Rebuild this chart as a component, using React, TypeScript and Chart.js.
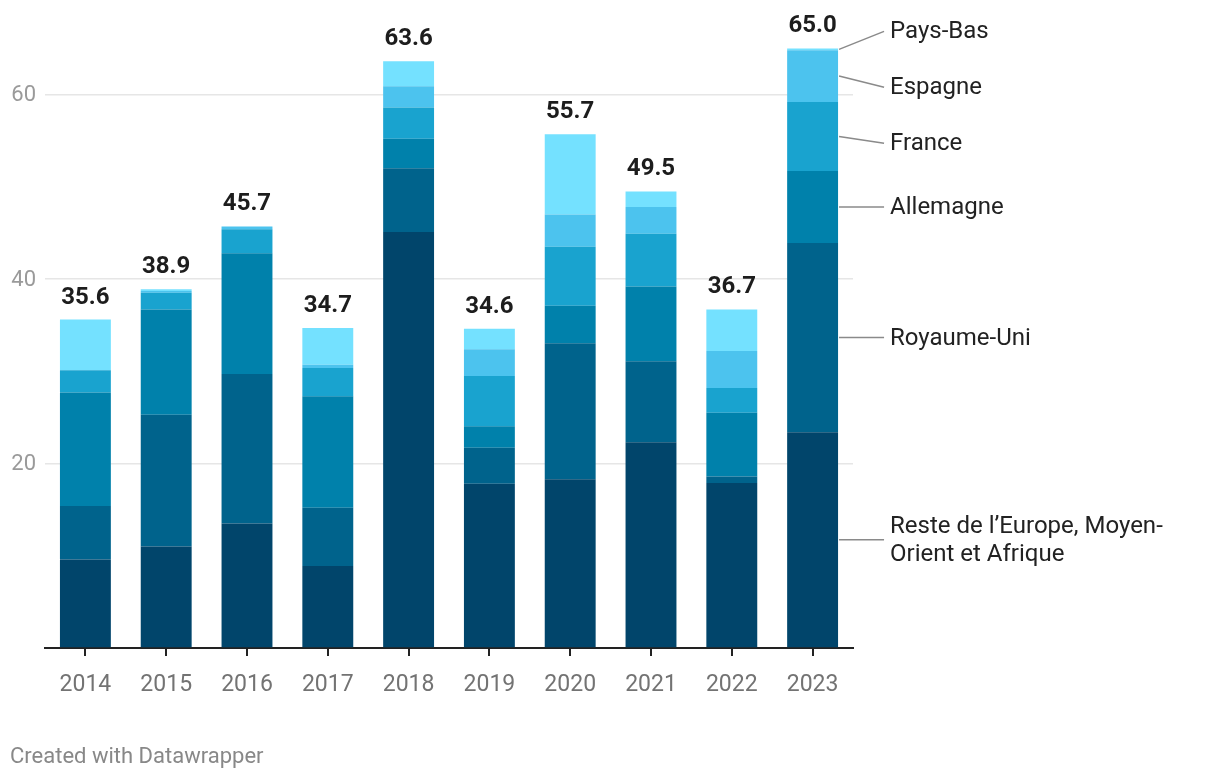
import React, { useEffect, useRef } from "react";
import { Chart, registerables } from "chart.js";

Chart.register(...registerables);

const years = ["2014", "2015", "2016", "2017", "2018", "2019", "2020", "2021", "2022", "2023"];
const reste = [9.6, 11.0, 13.5, 8.9, 45.1, 17.8, 18.3, 22.3, 17.9, 23.4];
const royaumeUni = [5.8, 14.3, 16.2, 6.3, 6.9, 3.9, 14.75, 8.8, 0.7, 20.5];
const allemagne = [12.3, 11.4, 13.1, 12.1, 3.2, 2.35, 4.05, 8.1, 6.9, 7.8];
const france = [2.4, 1.8, 2.6, 3.05, 3.4, 5.45, 6.4, 5.7, 2.7, 7.5];
const espagne = [0, 0.2, 0.3, 0.35, 2.3, 2.9, 3.5, 2.9, 4.0, 5.6];
const paysBas = [5.5, 0.2, 0, 4.0, 2.7, 2.2, 8.7, 1.7, 4.5, 0.2];
const totals = [35.6, 38.9, 45.7, 34.7, 63.6, 34.6, 55.7, 49.5, 36.7, 65.0];
const yTicks = [0, 20, 40, 60];

const seriesNames = [
  "Reste de l’Europe, Moyen-Orient et Afrique",
  "Royaume-Uni",
  "Allemagne",
  "France",
  "Espagne",
  "Pays-Bas",
];
const seriesValues = [reste, royaumeUni, allemagne, france, espagne, paysBas];
const seriesColors = ["#01456b", "#00638c", "#0081ab", "#19a3cf", "#4cc3ee", "#74e1ff"];

const FONT = "Roboto, 'Noto Sans', sans-serif";

function wrapText(ctx: CanvasRenderingContext2D, text: string, maxW: number): string[] {
  const tokens = text.match(/[^\s-]+-?|\s+/g) || [text];
  const lines: string[] = [];
  let cur = "";
  for (const t of tokens) {
    const test = cur + t;
    if (cur.trim() && ctx.measureText(test.trimEnd()).width > maxW) {
      lines.push(cur.trimEnd());
      cur = t.trimStart();
    } else {
      cur = test;
    }
  }
  if (cur.trim()) lines.push(cur.trimEnd());
  return lines;
}

const annotations = {
  id: "annotations",
  afterDraw(chart: any) {
    const ctx: CanvasRenderingContext2D = chart.ctx;
    const yScale = chart.scales.y;
    const xScale = chart.scales.x;
    ctx.save();

    // y tick labels
    ctx.font = `22px ${FONT}`;
    ctx.fillStyle = "#9a9a9a";
    ctx.textAlign = "right";
    ctx.textBaseline = "middle";
    yTicks.forEach((v) => {
      if (v === 0) return;
      ctx.fillText(String(v), chart.chartArea.left - 9, yScale.getPixelForValue(v) + 1);
    });

    // totals
    ctx.font = `bold 24px ${FONT}`;
    ctx.fillStyle = "#1d1d1d";
    ctx.textAlign = "center";
    ctx.textBaseline = "middle";
    totals.forEach((t, i) => {
      const x = xScale.getPixelForValue(i);
      const y = yScale.getPixelForValue(t);
      ctx.fillText(t.toFixed(1), x, y - 22);
    });

    // right labels for last bar
    const last = years.length - 1;
    const items = seriesNames.map((name, di) => {
      const el: any = chart.getDatasetMeta(di).data[last];
      const mid = (el.y + el.base) / 2;
      const right = el.x + el.width / 2;
      return { name, mid, right, pos: mid };
    });
    const sorted = [...items].sort((a, b) => a.mid - b.mid);
    const gap = 56;
    let groups: { members: any[]; center: number }[] = sorted.map((it) => ({ members: [it], center: it.mid }));
    const layout = (g: { members: any[]; center: number }) => {
      const n = g.members.length;
      const start = g.center - ((n - 1) * gap) / 2;
      g.members.forEach((m, k) => (m.pos = start + k * gap));
    };
    let changed = true;
    while (changed) {
      changed = false;
      groups.forEach(layout);
      for (let i = 0; i < groups.length - 1; i++) {
        const a = groups[i];
        const b = groups[i + 1];
        const aLast = a.members[a.members.length - 1].pos;
        const bFirst = b.members[0].pos;
        if (bFirst - aLast < gap) {
          const members = [...a.members, ...b.members];
          const center = members.reduce((s, m) => s + m.mid, 0) / members.length;
          groups.splice(i, 2, { members, center });
          changed = true;
          break;
        }
      }
    }
    groups.forEach(layout);

    ctx.font = `24px ${FONT}`;
    ctx.textAlign = "left";
    ctx.textBaseline = "middle";
    items.forEach((it) => {
      ctx.strokeStyle = "#8a8a8a";
      ctx.lineWidth = 1.5;
      ctx.beginPath();
      ctx.moveTo(it.right + 1, it.mid);
      ctx.lineTo(it.right + 46, it.pos);
      ctx.stroke();
      ctx.fillStyle = "#222222";
      const lines = wrapText(ctx, it.name, 300);
      const lh = 28;
      const y0 = it.pos - ((lines.length - 1) * lh) / 2;
      lines.forEach((ln, k) => ctx.fillText(ln, it.right + 52, y0 + k * lh + 1));
    });

    // credit
    ctx.font = `22px ${FONT}`;
    ctx.fillStyle = "#888888";
    ctx.textAlign = "left";
    ctx.textBaseline = "middle";
    ctx.fillText("Created with Datawrapper", 10, 757);
    ctx.restore();
  },
};

export default function App() {
  const ref = useRef<HTMLCanvasElement | null>(null);
  useEffect(() => {
    if (!ref.current) return;
    const chart = new Chart(ref.current, {
      type: "bar",
      data: {
        labels: years,
        datasets: seriesNames.map((name, i) => ({
          label: name,
          data: seriesValues[i],
          backgroundColor: seriesColors[i],
          borderWidth: 0,
          barPercentage: 0.63,
          categoryPercentage: 1,
        })),
      },
      options: {
        animation: false,
        responsive: false,
        devicePixelRatio: 1,
        layout: { padding: { left: 0, right: 367, top: 0, bottom: 0 } },
        plugins: { legend: { display: false }, tooltip: { enabled: false } },
        scales: {
          x: {
            stacked: true,
            border: { display: true, color: "#222222", width: 2 },
            grid: {
              display: true,
              drawOnChartArea: false,
              drawTicks: true,
              tickLength: 8,
              offset: false,
              color: "#222222",
              lineWidth: 2,
            },
            ticks: {
              color: "#737373",
              font: { family: FONT, size: 23 },
              padding: 15,
              maxRotation: 0,
            },
            afterFit: (s: any) => {
              s.height = 132;
            },
          },
          y: {
            stacked: true,
            min: 0,
            max: 70.25,
            border: { display: false },
            afterBuildTicks: (axis: any) => {
              axis.ticks = yTicks.map((value) => ({ value }));
            },
            grid: {
              drawTicks: false,
              color: (c: any) => (c.tick && c.tick.value === 0 ? "rgba(0,0,0,0)" : "#e6e6e6"),
              lineWidth: 1.5,
            },
            ticks: { display: false },
            afterFit: (s: any) => {
              s.width = 45;
            },
          },
        },
      },
      plugins: [annotations],
    });
    return () => chart.destroy();
  }, []);
  return (
    <div style={{ position: "fixed", left: 0, top: 0, width: 1220, height: 780, background: "#fff" }}>
      <canvas ref={ref} width={1220} height={780} />
    </div>
  );
}
